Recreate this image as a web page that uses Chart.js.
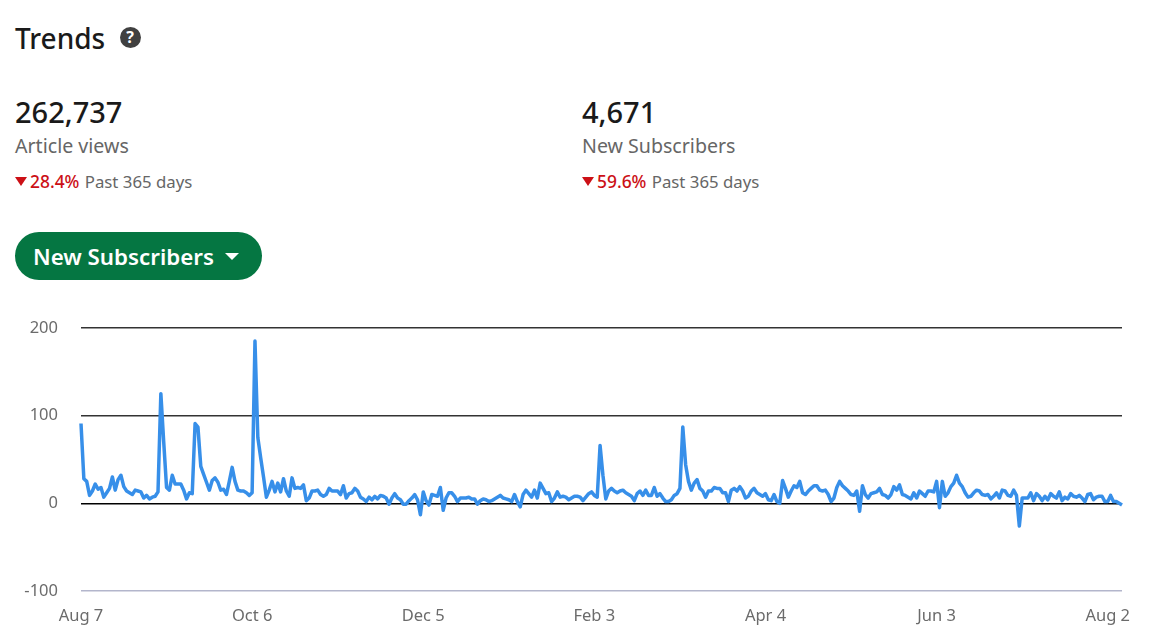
<!DOCTYPE html>
<html>
<head>
<meta charset="utf-8">
<title>Trends</title>
<script src="https://cdn.jsdelivr.net/npm/chart.js@4"></script>
<style>
    html, body { margin: 0; padding: 0; background: #fff; overflow: hidden; }
    body { width: 1150px; height: 634px; position: relative; font-family: "Noto Sans", sans-serif; }
    .txt { position: absolute; white-space: nowrap; line-height: 1; }
    .title { left: 15px; top: 24px; font-size: 28px; font-weight: 500; color: #1a1a1a; }
    .help { left: 119.5px; top: 27px; width: 21px; height: 21px; border-radius: 50%; background: #404040; color: #fff;
            font-size: 16px; font-weight: 700; text-align: center; line-height: 21px; }
    .big { top: 97px; font-size: 29px; font-weight: 500; color: #1a1a1a; }
    .label { top: 136px; font-size: 19.6px; color: #666; }
    .delta { top: 172.5px; font-size: 16.8px; color: #666; }
    .delta b { color: #cc1016; font-weight: 500; font-size: 17.4px; margin-right: 1px; }
    .tri { position: absolute; top: 177px; width: 0; height: 0; border-left: 6px solid transparent;
           border-right: 6px solid transparent; border-top: 9px solid #cc1016; }
    .button { position: absolute; left: 15px; top: 232px; width: 247px; height: 48px; border-radius: 24px; background: #057642; }
    .button span { position: absolute; left: 18px; top: 14px; font-size: 22.3px; font-weight: 600; color: #fff; line-height: 1; white-space: nowrap; }
    .button i { position: absolute; left: 210px; top: 21px; width: 0; height: 0; border-left: 7px solid transparent;
                border-right: 7px solid transparent; border-top: 7px solid #fff; }
    #chart { position: absolute; left: 0; top: 295px; }
</style>
</head>
<body>
<div class="txt title">Trends</div>
<div class="txt help">?</div>

<div class="txt big" style="left:15px">262,737</div>
<div class="txt label" style="left:15px">Article views</div>
<div class="tri" style="left:15px"></div>
<div class="txt delta" style="left:30px"><b>28.4%</b> Past 365 days</div>

<div class="txt big" style="left:582px">4,671</div>
<div class="txt label" style="left:582px">New Subscribers</div>
<div class="tri" style="left:582px"></div>
<div class="txt delta" style="left:597px"><b>59.6%</b> Past 365 days</div>

<div class="button"><span>New Subscribers</span><i></i></div>

<canvas id="chart" width="1150" height="339"></canvas>

<script>
// daily new subscribers
const newSubscribers = [
    91, 28, 25, 9, 14, 22, 16, 18, 7, 12,
    17, 30, 15, 27, 32, 19, 14, 12, 10, 15,
    14, 13, 6, 9, 5, 7, 8, 13, 125, 70,
    18, 15, 32, 22, 22, 22, 15, 5, 12, 11,
    91, 87, 42, 33, 24, 15, 26, 29, 24, 15,
    16, 10, 25, 41, 25, 15, 14, 14, 12, 9,
    12, 185, 75, 52, 30, 7, 15, 25, 13, 23,
    13, 28, 14, 8, 29, 17, 18, 17, 21, 3,
    6, 14, 14, 15, 10, 8, 10, 17, 14, 14,
    14, 10, 20, 6, 11, 12, 17, 14, 7, 5,
    2, 7, 4, 8, 5, 9, 8, 6, -1, 6,
    11, 6, 4, -1, -1, 3, 6, 10, 4, -13,
    13, 3, -2, 10, 9, 8, 18, -8, 6, 12,
    12, 8, 2, 6, 6, 6, 7, 5, 5, -1,
    3, 5, 4, 2, 3, 5, 7, 9, 6, 5,
    4, 2, 10, 2, -4, 10, 15, 11, 7, 15,
    6, 23, 17, 11, 12, 2, 6, 13, 7, 8,
    7, 4, 6, 8, 8, 7, 3, 7, 11, 13,
    9, 7, 66, 32, 5, 14, 17, 14, 12, 14,
    15, 12, 10, 8, 3, 11, 14, 9, 15, 9,
    9, 18, 8, 11, 6, 2, 2, 4, 9, 11,
    17, 87, 44, 25, 15, 23, 27, 17, 14, 7,
    14, 14, 18, 17, 17, 12, 12, 2, 15, 17,
    14, 19, 14, 6, 8, 14, 17, 12, 10, 8,
    11, 4, 3, 10, 2, 0, 26, 17, 7, 14,
    20, 18, 25, 12, 10, 14, 17, 20, 20, 15,
    14, 15, 10, 2, 6, 18, 25, 20, 17, 14,
    10, 9, 14, -9, 20, 10, 6, 11, 12, 13,
    17, 10, 9, 6, 10, 19, 15, 21, 10, 9,
    7, 5, 12, 6, 14, 11, 8, 14, 14, 13,
    25, -5, 25, 8, 12, 19, 23, 32, 23, 19,
    12, 7, 8, 12, 15, 14, 10, 9, 10, 5,
    8, 12, 6, 15, 14, 9, 8, 15, 9, -26,
    6, 6, 6, 12, 3, 11, 8, 3, 8, 4,
    11, 8, 6, 13, 3, 7, 5, 11, 8, 7,
    9, 6, 2, 10, 11, 4, 7, 8, 8, 2,
    2, 9, 2, 2, 0, -2
];

// one x tick label every 60 days
const tickLabels = ["Aug 7", "Oct 6", "Dec 5", "Feb 3", "Apr 4", "Jun 3", "Aug 2"];
const tickEvery = 60;
const dayIndex = newSubscribers.map((v, i) => i);

const tickFont = { family: "'Noto Sans', sans-serif", size: 16.5 };

// horizontal rules: lavender axis at the bottom, black at zero, dark grey otherwise
function gridColor(ctx) {
    if (ctx.tick.value === -100) return "#b3b6cc";
    if (ctx.tick.value === 0) return "#000000";
    return "#333333";
}

new Chart(document.getElementById("chart"), {
    type: "line",
    data: {
        labels: dayIndex,
        datasets: [{
            label: "New Subscribers",
            data: newSubscribers,
            borderColor: "#378fe9",
            borderWidth: 3.5,
            borderJoinStyle: "round",
            pointRadius: 0,
            tension: 0,
            clip: false
        }]
    },
    options: {
        responsive: false,
        animation: false,
        devicePixelRatio: 1,
        layout: { padding: { top: 23, right: 28, left: 0, bottom: 0 } },
        plugins: { legend: { display: false }, tooltip: { enabled: false } },
        scales: {
            x: {
                grid: { display: false },
                border: { display: false },
                afterFit: axis => { axis.height = 43; },
                ticks: {
                    autoSkip: false,
                    maxRotation: 0,
                    color: "#6b6b6b",
                    font: tickFont,
                    padding: 7,
                    callback: (value, index) => index % tickEvery === 0 ? tickLabels[index / tickEvery] : null
                }
            },
            y: {
                min: -100,
                max: 200,
                border: { display: false },
                afterFit: axis => { axis.width = 81; },
                grid: { color: gridColor, lineWidth: 1.5, drawTicks: false },
                ticks: {
                    stepSize: 100,
                    color: "#6b6b6b",
                    font: tickFont,
                    padding: 23
                }
            }
        }
    }
});
</script>
</body>
</html>
